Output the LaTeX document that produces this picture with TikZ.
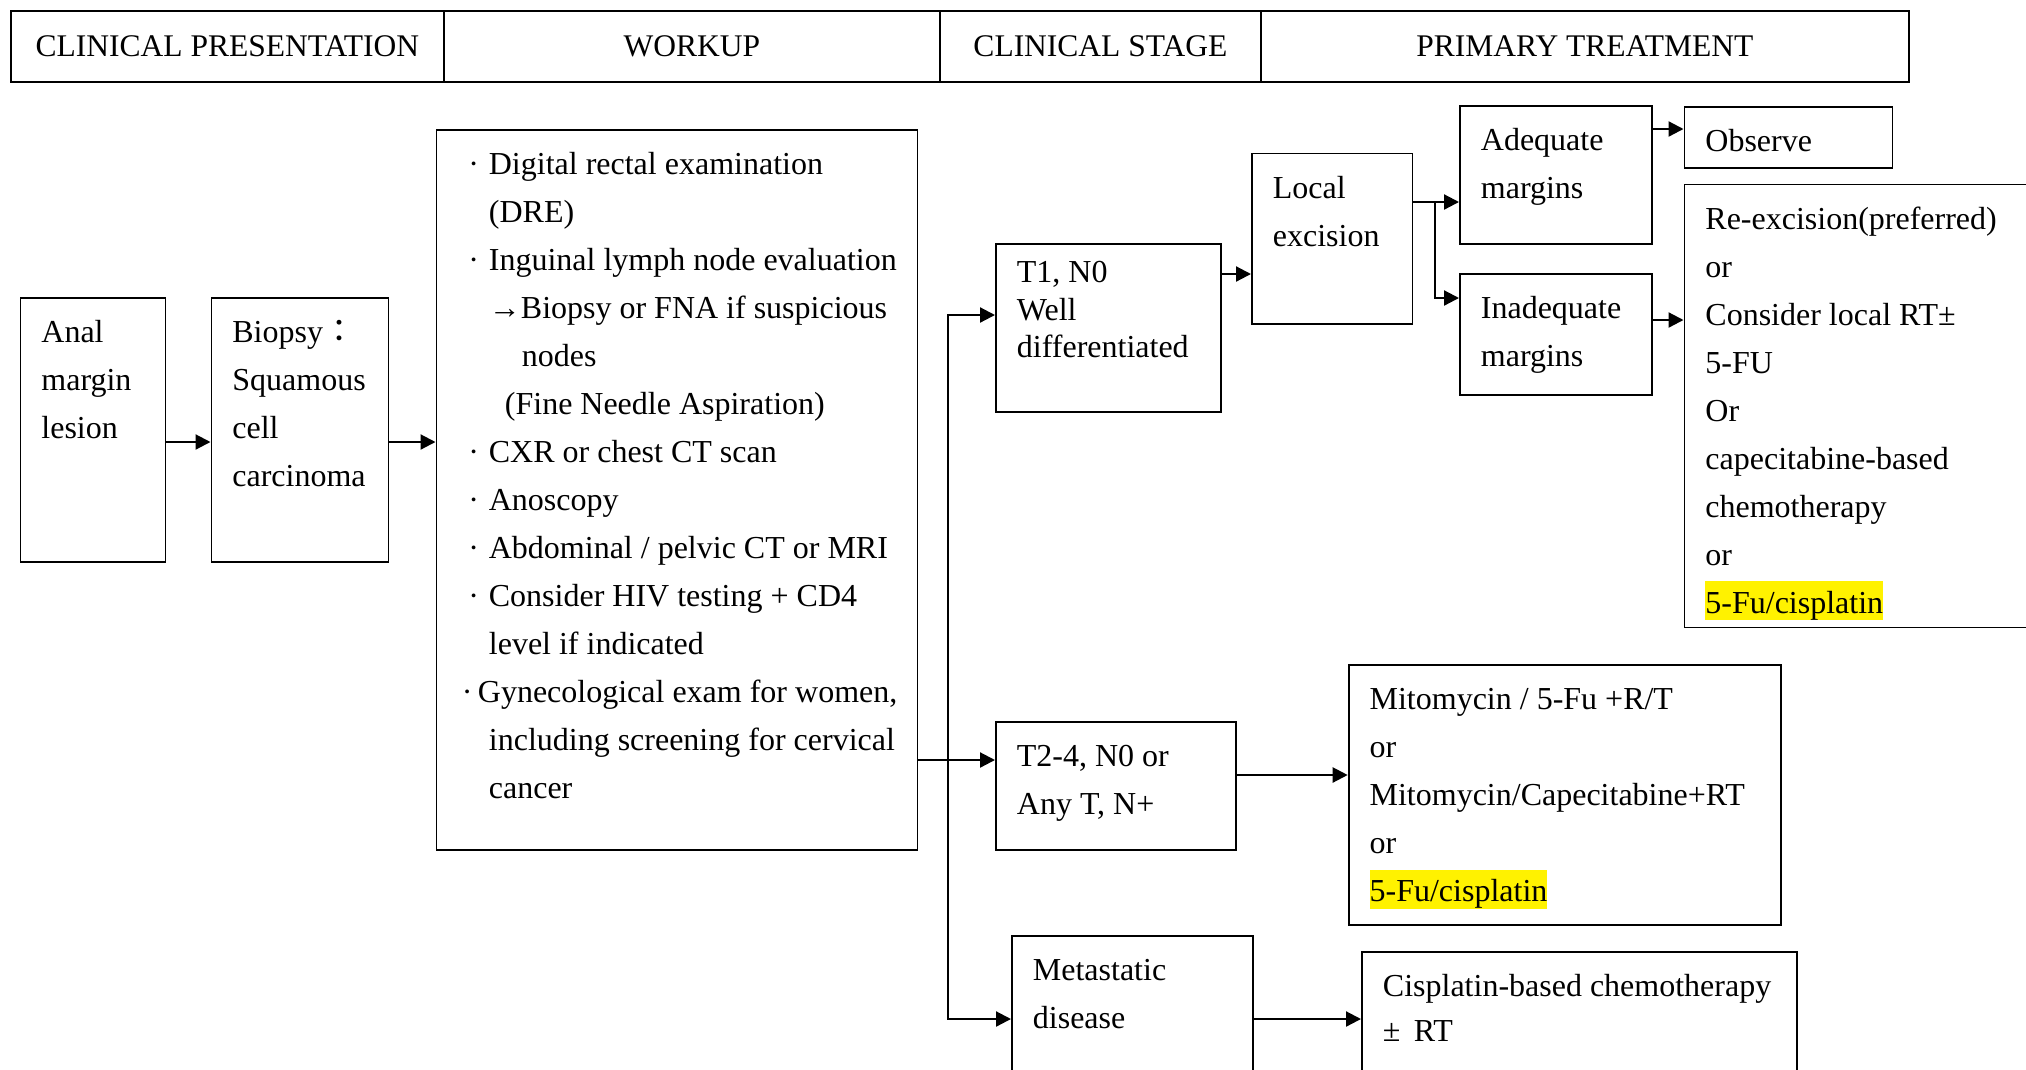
\documentclass[tikz,border=0pt]{standalone}
\usepackage{fontspec}
\setmainfont{Liberation Serif}
\newfontfamily\cjk{Noto Sans CJK TC}
\usetikzlibrary{arrows.meta}
\newcommand{\hilite}[1]{{\setlength{\fboxsep}{0pt}\colorbox{yellow}{\rule[-7pt]{0pt}{39pt}#1}}}
\newcommand{\wdot}{\hspace*{16pt}\makebox[20.5pt][l]{·}}
\newcommand{\wind}[1]{\hspace*{#1pt}}
\tikzset{
  head/.style={draw, line width=1.8pt, anchor=north west, inner sep=0pt, minimum height=71pt, font=\fontsize{31.5}{38}\selectfont},
  box/.style={draw, line width=1.8pt, anchor=north west, inner xsep=21pt, inner ysep=0pt, align=flush left, text height=45pt, font=\fontsize{32}{48}\selectfont},
  arr/.style={line width=2.2pt, -{Triangle[length=15pt,width=15pt]}}
}
\begin{document}
\begin{tikzpicture}[x=1pt, y=-1pt]
\useasboundingbox (0,0) rectangle (2026,1069);
\clip (0,0) rectangle (2026,1069);
\node[head, minimum width=433pt] (hpres) at (10,10) {CLINICAL PRESENTATION};
\node[head, minimum width=496pt] (hwork) at (443,10) {WORKUP};
\node[head, minimum width=321pt] (hstage) at (939,10) {CLINICAL STAGE};
\node[head, minimum width=648pt] (htreat) at (1260,10) {PRIMARY TREATMENT};

\node[box, text width=103pt, text depth=219pt] (anal) at (19.5,297) {Anal\\margin\\lesion};
\node[box, text width=135pt, text depth=219pt] (biopsy) at (210.5,297) {Biopsy{\cjk ：}\\Squamous\\cell\\carcinoma};
\node[box, inner xsep=16pt, text width=449pt, text depth=675pt] (workup) at (435.5,129) {%
\wdot Digital rectal examination\\
\wind{36.5}(DRE)\\
\wdot Inguinal lymph node evaluation\\
\wind{36.5}→Biopsy or FNA if suspicious\\
\wind{69.5}nodes\\
\wind{52.5}(Fine Needle Aspiration)\\
\wdot CXR or chest CT scan\\
\wdot Anoscopy\\
\wdot Abdominal / pelvic CT or MRI\\
\wdot Consider HIV testing + CD4\\
\wind{36.5}level if indicated\\
\wind{9.5}\makebox[16pt][l]{·}Gynecological exam for women,\\
\wind{36.5}including screening for cervical\\
\wind{36.5}cancer};

\node[box, text width=183pt, text height=39pt, text depth=129pt, font=\fontsize{32}{37.5}\selectfont] (t1) at (995,243) {T1, N0\\Well\\differentiated};
\node[box, text width=198pt, text depth=83pt] (t2) at (995,721) {T2-4, N0 or\\Any T, N+};
\node[box, text width=199pt, text depth=155pt] (meta) at (1011,935) {Metastatic\\disease};
\node[box, text width=118.5pt, text depth=125.5pt] (local) at (1251,152.5) {Local\\excision};
\node[box, text width=150pt, text depth=93pt] (adeq) at (1459,105) {Adequate\\margins};
\node[box, text width=150pt, text depth=76pt] (inadeq) at (1459,273) {Inadequate\\margins};
\node[box, text width=166pt, text depth=16pt] (observe) at (1683.5,106) {Observe};
\node[box, text width=358pt, text depth=398pt] (reex) at (1683.5,183.5) {Re-excision(preferred)\\or\\Consider local RT±\\5-FU\\Or\\capecitabine-based\\chemotherapy\\or\\\hilite{5-Fu/cisplatin}};
\node[box, text width=390.5pt, text depth=215pt] (mito) at (1347.7,664) {Mitomycin / 5-Fu +R/T\\or\\Mitomycin/Capecitabine+RT\\or\\\hilite{5-Fu/cisplatin}};
\node[box, text width=393pt, text depth=155pt, font=\fontsize{32}{45}\selectfont] (cis) at (1361,951) {Cisplatin-based chemotherapy\\± \,RT};

\coordinate (split) at (948,760);
\coordinate (fork) at (1435,202);
\draw[arr] (anal.east |- 0,442) -- (biopsy.west |- 0,442);
\draw[arr] (biopsy.east |- 0,442) -- (workup.west |- 0,442);
\draw[arr] (workup.east |- 0,760) -- (t2.west |- 0,760);
\draw[arr] (split) |- (t1.west |- 0,315);
\draw[arr] (split) |- (meta.west |- 0,1019);
\draw[arr] (t1.east |- 0,274) -- (local.west |- 0,274);
\draw[arr] (local.east |- 0,202) -- (adeq.west |- 0,202);
\draw[arr] (fork) |- (inadeq.west |- 0,298);
\draw[arr] (adeq.east |- 0,129) -- (observe.west |- 0,129);
\draw[arr] (inadeq.east |- 0,320) -- (reex.west |- 0,320);
\draw[arr] (t2.east |- 0,775) -- (mito.west |- 0,775);
\draw[arr] (meta.east |- 0,1019) -- (cis.west |- 0,1019);
\end{tikzpicture}
\end{document}
